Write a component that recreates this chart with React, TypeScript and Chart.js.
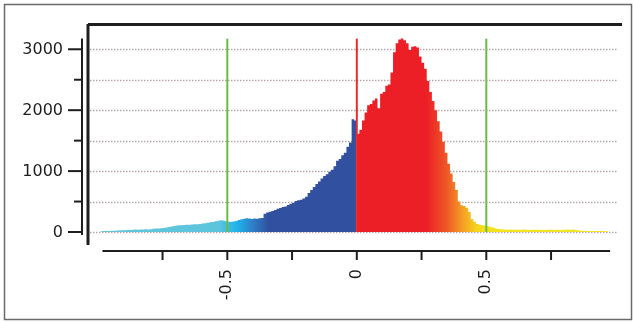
import React, { useEffect, useRef } from "react";
import { Chart, registerables } from "chart.js";

Chart.register(...registerables);

// ---- data ----
const binStart = -0.99;
const binWidth = 0.01;

// counts for bins from -0.99 to 0.00
const countsNegative = [
  14, 16, 18, 17, 19, 21, 24, 28, 30, 29,
  32, 31, 35, 40, 38, 42, 40, 44, 43, 47,
  52, 57, 56, 60, 64, 72, 80, 92, 100, 108,
  112, 110, 116, 120, 118, 124, 128, 126, 132, 140,
  145, 150, 158, 165, 178, 185, 192, 188, 176, 170,
  168, 172, 180, 195, 210, 218, 224, 220, 215, 222,
  218, 225, 228, 300, 320, 332, 345, 360, 380,
  395, 410, 420, 445, 465, 480, 510, 520, 530, 548,
  580, 640, 690, 740, 790, 830, 880, 920, 950, 990,
  1020, 1080, 1170, 1200, 1260, 1300, 1400, 1470, 1850, 1830,
];

// counts for bins from 0.00 to 0.97
const countsPositive = [
  1615, 1680, 1830, 1960, 2080, 2100, 2160, 2190, 2030, 2270,
  2300, 2400, 2420, 2620, 2950, 3100, 3160,
  3175, 3150, 3100, 2990, 3040, 3050, 3030, 2880, 2780, 2680,
  2480, 2300, 2150, 2000, 1820, 1650, 1480, 1300, 1120, 960,
  820, 690, 500, 440, 425, 400, 330, 210, 170, 130,
  120, 112, 108, 100, 88, 74, 60, 50, 45, 42,
  40, 38, 40, 36, 38, 35, 37, 39, 36, 34,
  37, 38, 35, 36, 37, 34, 36, 35, 37, 33,
  35, 34, 36, 37, 42, 35, 39, 33, 30,
  20, 18, 19, 17, 18, 16, 17, 16, 15, 16, 14,
];

const counts = [...countsNegative, ...countsPositive];

const markerPositions = [-0.5, 0, 0.5];
const markerColors = ["#6dbb45", "#ec2a2e", "#6dbb45"];
const markerTop = 3175;

const yTickValues = [0, 500, 1000, 1500, 2000, 2500, 3000];
const yLabelValues = [0, 1000, 2000, 3000];
const yLabelTexts = ["0", "1000", "2000", "3000"];

const xTickValues = [-0.75, -0.5, -0.25, 0, 0.25, 0.5, 0.75];
const xLabelValues = [-0.5, 0, 0.5];
const xLabelTexts = ["-0.5", "0", "0.5"];
const xAxisFrom = -0.982;
const xAxisTo = 0.978;

const FONT = "16px 'DejaVu Sans', sans-serif";
const INK = "#1e1e1e";

const histPoints = counts.map((c, i) => ({ x: binStart + i * binWidth, y: c }));
histPoints.push({ x: binStart + counts.length * binWidth, y: counts[counts.length - 1] });

const customAxes = {
  id: "customAxes",
  beforeDatasetsDraw(chart: any) {
    const { ctx, scales } = chart;
    const x = scales.x;
    const y = scales.y;
    ctx.save();
    ctx.strokeStyle = "#b3a7a7";
    ctx.lineWidth = 1.5;
    ctx.setLineDash([1.5, 1.5]);
    const left = chart.chartArea.left + 2;
    const right = x.getPixelForValue(1.005);
    yTickValues.forEach((v) => {
      const py = Math.round(y.getPixelForValue(v)) + 0.5;
      ctx.beginPath();
      ctx.moveTo(left, py);
      ctx.lineTo(right, py);
      ctx.stroke();
    });
    ctx.restore();
  },
  afterDraw(chart: any) {
    const { ctx, scales, chartArea, width, height } = chart;
    const x = scales.x;
    const y = scales.y;
    ctx.save();
    ctx.setLineDash([]);
    ctx.strokeStyle = INK;
    ctx.fillStyle = INK;

    // frame (top + left)
    ctx.lineWidth = 3;
    ctx.beginPath();
    ctx.moveTo(chartArea.left, chartArea.top + 0.5);
    ctx.lineTo(chartArea.right, chartArea.top + 0.5);
    ctx.moveTo(chartArea.left, chartArea.top);
    ctx.lineTo(chartArea.left, chartArea.bottom);
    ctx.stroke();

    // y axis
    const yAxisX = chartArea.left - 6;
    const y0 = y.getPixelForValue(0);
    ctx.lineWidth = 2;
    ctx.beginPath();
    ctx.moveTo(yAxisX, y.getPixelForValue(markerTop));
    ctx.lineTo(yAxisX, y0 + 3);
    ctx.stroke();
    yTickValues.forEach((v) => {
      const py = y.getPixelForValue(v);
      const major = yLabelValues.includes(v);
      ctx.beginPath();
      ctx.moveTo(yAxisX - (major ? 14 : 8), py);
      ctx.lineTo(yAxisX, py);
      ctx.stroke();
    });
    ctx.font = FONT;
    ctx.textAlign = "right";
    ctx.textBaseline = "middle";
    yLabelValues.forEach((v, i) => {
      ctx.fillText(yLabelTexts[i], yAxisX - 19, y.getPixelForValue(v) + 1);
    });

    // x axis
    const xAxisY = chartArea.bottom + 6;
    ctx.beginPath();
    ctx.moveTo(x.getPixelForValue(xAxisFrom), xAxisY);
    ctx.lineTo(x.getPixelForValue(xAxisTo), xAxisY);
    ctx.stroke();
    xTickValues.forEach((v) => {
      const px = x.getPixelForValue(v);
      ctx.beginPath();
      ctx.moveTo(px, xAxisY);
      ctx.lineTo(px, xAxisY + 9);
      ctx.stroke();
    });
    xLabelValues.forEach((v, i) => {
      const px = x.getPixelForValue(v);
      ctx.save();
      ctx.translate(px, xAxisY + 18);
      ctx.rotate(-Math.PI / 2);
      ctx.textAlign = "right";
      ctx.textBaseline = "middle";
      ctx.fillText(xLabelTexts[i], 0, 0);
      ctx.restore();
    });

    // outer picture border
    ctx.strokeStyle = "#6a6a6a";
    ctx.lineWidth = 1.5;
    ctx.strokeRect(4.5, 4.5, width - 7, height - 7);
    ctx.restore();
  },
};

function histGradient(context: any) {
  const chart = context.chart;
  const { chartArea, scales } = chart;
  if (!chartArea || !scales.x) return "rgba(0,0,0,0)";
  const x = scales.x;
  const g = chart.ctx.createLinearGradient(x.getPixelForValue(-1), 0, x.getPixelForValue(1), 0);
  const stop = (v: number, c: string) => g.addColorStop((v + 1) / 2, c);
  stop(-1, "#63c7da");
  stop(-0.53, "#5cc4dc");
  stop(-0.46, "#1fb2ea");
  stop(-0.4, "#2f7dc6");
  stop(-0.34, "#31509f");
  stop(-0.0005, "#31509f");
  stop(0.0005, "#ec1f26");
  stop(0.27, "#ec1f26");
  stop(0.35, "#ef5a27");
  stop(0.41, "#f4a024");
  stop(0.46, "#f6d21a");
  stop(0.5, "#f2e21c");
  stop(1, "#f0e52c");
  return g;
}

export default function App() {
  const ref = useRef<HTMLCanvasElement | null>(null);
  useEffect(() => {
    if (!ref.current) return;
    const markerSets = markerPositions.map((m, i) => ({
      type: "line" as const,
      data: [
        { x: m, y: 0 },
        { x: m, y: markerTop },
      ],
      borderColor: markerColors[i],
      borderWidth: 2,
      pointRadius: 0,
      fill: false,
      order: 1,
    }));
    const chart = new Chart(ref.current, {
      type: "line",
      data: {
        datasets: [
          ...markerSets,
          {
            data: histPoints,
            stepped: "before",
            fill: "origin",
            borderWidth: 0,
            borderColor: "rgba(0,0,0,0)",
            pointRadius: 0,
            backgroundColor: histGradient,
            order: 2,
          } as any,
        ],
      },
      options: {
        animation: false,
        responsive: false,
        maintainAspectRatio: false,
        layout: { padding: { left: 88, top: 24, right: 12, bottom: 77 } },
        scales: {
          x: { type: "linear", min: -1.0378, max: 1.0239, display: false },
          y: { type: "linear", min: -213.5, max: 3415, display: false },
        },
        plugins: {
          legend: { display: false },
          tooltip: { enabled: false },
        },
      },
      plugins: [customAxes],
    });
    return () => chart.destroy();
  }, []);
  return (
    <div style={{ position: "absolute", left: 0, top: 0, width: 634, height: 322, background: "#fff" }}>
      <canvas ref={ref} width={634} height={322} style={{ display: "block" }} />
    </div>
  );
}
